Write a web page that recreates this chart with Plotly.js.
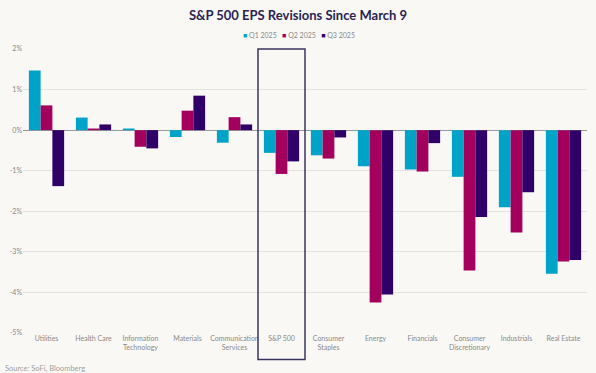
<!DOCTYPE html>
<html><head><meta charset="utf-8">
<script src="https://cdn.plot.ly/plotly-3.0.1.min.js"></script>
<style>html,body{margin:0;padding:0;background:#f9f8f5;}#chart{width:596px;height:373px;}</style>
</head><body><div id="chart"></div>
<script>
const categories = ["Utilities","Health Care","Information<br>Technology","Materials","Communication<br>Services","S&P 500","Consumer<br>Staples","Energy","Financials","Consumer<br>Discretionary","Industrials","Real Estate"];
const seriesNames = ["Q1 2025","Q2 2025","Q3 2025"];
const q1 = [1.47, 0.31, 0.04, -0.17, -0.31, -0.56, -0.62, -0.89, -0.97, -1.15, -1.90, -3.54];
const q2 = [0.61, 0.04, -0.41, 0.48, 0.32, -1.08, -0.70, -4.25, -1.02, -3.46, -2.52, -3.24];
const q3 = [-1.38, 0.14, -0.45, 0.85, 0.14, -0.77, -0.18, -4.05, -0.32, -2.14, -1.53, -3.20];
const yTicks = [2, 1, 0, -1, -2, -3, -4, -5];
const yTickLabels = ["2%","1%","0%","-1%","-2%","-3%","-4%","-5%"];
const highlight = "S&P 500";
const colors = ["#00a3c8", "#a3005e", "#2e0068"];

const vals = [q1, q2, q3];
const traces = vals.map((v, i) => ({
  type: "bar", name: seriesNames[i], x: categories, y: v.map(d => d / 100),
  marker: {color: colors[i], line: {width: 0}}, hoverinfo: "skip", showlegend: false
}));
const hi = categories.indexOf(highlight);
const legendText = seriesNames.map((n, i) =>
  "<span style='color:" + colors[i] + "'>■</span> " + n).join("   ");
const layout = {
  width: 596, height: 373,
  paper_bgcolor: "#f9f8f5", plot_bgcolor: "#f9f8f5",
  margin: {l: 23, r: 9, t: 49, b: 40},
  barmode: "group", bargap: 0.25, bargroupgap: 0,
  font: {family: "Lato, 'Open Sans', sans-serif", color: "#8a8a8a", size: 7},
  title: {text: "<b>S&P 500 EPS Revisions Since March 9</b>", x: 0.5, xanchor: "center", y: 0.958, yanchor: "middle",
          font: {family: "Lato, sans-serif", size: 13, color: "#2a2452"}},
  showlegend: false,
  xaxis: {type: "category", showgrid: false, zeroline: false, showline: false, ticks: "",
          tickfont: {size: 7, color: "#8a8a8a"}, tickangle: 0, automargin: false},
  yaxis: {range: [-0.05, 0.02], tickvals: yTicks.map(t => t / 100), ticktext: yTickLabels,
          showgrid: true, gridcolor: "#e4e3df", gridwidth: 1, zeroline: true, zerolinecolor: "#9a9a9a", zerolinewidth: 1,
          tickfont: {size: 7, color: "#8a8a8a"}, ticks: "", automargin: false},
  shapes: [{type: "rect", xref: "x", yref: "paper", x0: hi - 0.5, x1: hi + 0.5, y0: -0.093, y1: 1,
            line: {color: "#3a355e", width: 1.5}, fillcolor: "rgba(0,0,0,0)"}],
  annotations: [
    {text: "Source: SoFi, Bloomberg", xref: "paper", yref: "paper", x: -0.036, y: -0.124,
     xanchor: "left", yanchor: "middle", showarrow: false, font: {size: 7.5, color: "#a0a0a0"}},
    {text: legendText, xref: "paper", yref: "paper", x: 0.489, y: 1.05,
     xanchor: "center", yanchor: "middle", showarrow: false, font: {size: 7, color: "#8a8a8a"}}
  ]
};
Plotly.newPlot("chart", traces, layout, {displayModeBar: false, staticPlot: true});
</script></body></html>
